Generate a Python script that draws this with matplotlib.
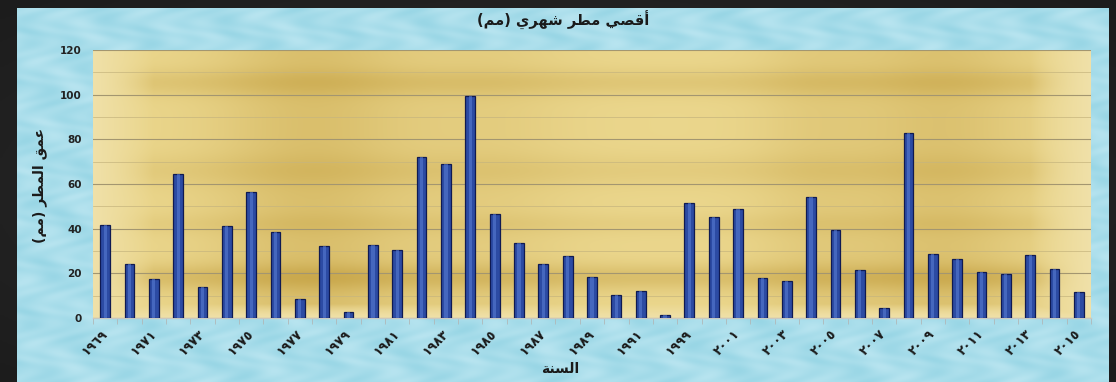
import numpy as np
import matplotlib
matplotlib.use("Agg")
import matplotlib.pyplot as plt

# ---------------- data ----------------
years = list(range(1969, 1992)) + [1992] + list(range(1999, 2016))
values = [41.6, 24.1, 17.3, 64.3, 13.9, 41.4, 56.2, 38.7, 8.5, 32.1, 2.5,
          32.9, 30.3, 72.3, 69.1, 99.3, 46.5, 33.5, 24.4, 27.8, 18.2, 10.3, 12.1,
          1.2,
          51.6, 45.4, 49.0, 17.8, 16.6, 54.1, 39.6, 21.4, 4.5, 82.7, 28.8, 26.5,
          20.6, 19.7, 28.1, 21.8, 11.7]
title_text = "أقصي مطر شهري (مم)"
ylabel_text = "عمق المطر (مم)"
xlabel_text = "السنة"
yticks = [0, 20, 40, 60, 80, 100, 120]

# --------------- arabic shaping (presentation forms, visual order) ---------------
FORMS = {
    '\u0627': ('\uFE8D', '\uFE8E', None, None),
    '\u0623': ('\uFE83', '\uFE84', None, None),
    '\u0642': ('\uFED5', '\uFED6', '\uFED7', '\uFED8'),
    '\u0635': ('\uFEB9', '\uFEBA', '\uFEBB', '\uFEBC'),
    '\u064A': ('\uFEF1', '\uFEF2', '\uFEF3', '\uFEF4'),
    '\u0645': ('\uFEE1', '\uFEE2', '\uFEE3', '\uFEE4'),
    '\u0637': ('\uFEC1', '\uFEC2', '\uFEC3', '\uFEC4'),
    '\u0631': ('\uFEAD', '\uFEAE', None, None),
    '\u0634': ('\uFEB5', '\uFEB6', '\uFEB7', '\uFEB8'),
    '\u0647': ('\uFEE9', '\uFEEA', '\uFEEB', '\uFEEC'),
    '\u0639': ('\uFEC9', '\uFECA', '\uFECB', '\uFECC'),
    '\u0644': ('\uFEDD', '\uFEDE', '\uFEDF', '\uFEE0'),
    '\u0633': ('\uFEB1', '\uFEB2', '\uFEB3', '\uFEB4'),
    '\u0646': ('\uFEE5', '\uFEE6', '\uFEE7', '\uFEE8'),
    '\u0629': ('\uFE93', '\uFE94', None, None),
}


def shape(s):
    ch = list(s)
    out = []
    for i, c in enumerate(ch):
        if c not in FORMS:
            out.append(c)
            continue
        prev = ch[i - 1] if i > 0 else None
        nxt = ch[i + 1] if i + 1 < len(ch) else None
        jp = prev in FORMS and FORMS[prev][2] is not None
        jn = nxt in FORMS and FORMS[c][2] is not None
        f = FORMS[c]
        if jp and jn:
            g = f[3]
        elif jp:
            g = f[1]
        elif jn:
            g = f[2]
        else:
            g = f[0]
        out.append(g)
    vis = ''.join(reversed(out))
    return vis.translate(str.maketrans('()', ')('))


to_ar_digits = str.maketrans('0123456789', '٠١٢٣٤٥٦٧٨٩')
tick_labels = [str(y).translate(to_ar_digits) for y in years]

# ---------------- figure ----------------
W, H = 1116, 382
fig = plt.figure(figsize=(W / 100, H / 100), dpi=100)
fig.patch.set_facecolor('#1d1d1d')

# dark vignette background
bg = fig.add_axes([0, 0, 1, 1], zorder=-10)
bg.set_axis_off()
yy, xx = np.mgrid[0:1:200j, 0:1:400j]
vig = 1 - 0.5 * (((xx - 0.5) / 0.5) ** 2 * 0.5 + ((yy - 0.5) / 0.5) ** 2 * 0.5)
bg.imshow(np.dstack([0.07 + 0.08 * vig] * 3), extent=[0, 1, 0, 1], aspect='auto')
bg.set_xlim(0, 1)
bg.set_ylim(0, 1)

# light blue textured chart area
ca = fig.add_axes([17 / W, 0, (1109 - 17) / W, 1 - 8 / H], zorder=-5)
ca.set_axis_off()
yy, xx = np.mgrid[0:1:300j, 0:1:900j]
tex = (0.5 + 0.3 * np.sin(xx * 140 + np.sin(yy * 50) * 3) * np.sin(yy * 75 + xx * 30)
       + 0.2 * np.sin(xx * 67 - yy * 41))
tex = np.clip(tex, 0, 1)
base = np.array([0.60, 0.84, 0.90])
light = np.array([0.84, 0.95, 0.98])
img = base[None, None, :] * (1 - tex[..., None] * 0.5) + light[None, None, :] * (tex[..., None] * 0.5)
ca.imshow(np.clip(img, 0, 1), extent=[0, 1, 0, 1], aspect='auto', interpolation='bilinear')
ca.set_xlim(0, 1)
ca.set_ylim(0, 1)

# plot axes
ax = fig.add_axes([93 / W, 1 - 318 / H, (1091 - 93) / W, (318 - 50) / H])
yy, xx = np.mgrid[0:1:200j, 0:1:500j]


def bump(t, c, w):
    return np.exp(-((t - c) / w) ** 2)


# darkness field: 0 = light gold, 1 = dark gold
dx = (0.9 * bump(xx, 0.22, 0.10) + 0.35 * bump(xx, 0.40, 0.08)
      + 0.8 * bump(xx, 0.85, 0.09) + 0.4 * bump(xx, 0.72, 0.06))
dy = (0.9 * bump(yy, 0.85, 0.05) + 0.6 * bump(yy, 0.12, 0.05)
      + 0.4 * bump(yy, 0.45, 0.06) + 0.3 * bump(yy, 0.65, 0.04))
dark = np.clip(0.55 * dx + 0.55 * dy, 0, 1)
edge = np.clip(1 - np.minimum.reduce([xx / 0.06, (1 - xx) / 0.06, (1 - yy) / 0.05]), 0, 1)
dark = dark * (1 - edge)
c_light = np.array([0.92, 0.84, 0.55])
c_dark = np.array([0.79, 0.66, 0.30])
gimg = c_light * (1 - dark[..., None]) + c_dark * dark[..., None]
gimg = gimg * (1 - edge[..., None]) + np.array([0.94, 0.88, 0.66]) * edge[..., None]
ax.imshow(np.clip(gimg, 0, 1), extent=[0, 1, 0, 1], transform=ax.transAxes,
          aspect='auto', zorder=0, interpolation='bilinear')

x = np.arange(len(years))
ax.bar(x, values, width=0.4, color='#2c4ba3', edgecolor='#0f1a52', linewidth=0.9, zorder=3)
ax.bar(x, values, width=0.13, color='#5b7fd6', linewidth=0, alpha=0.55, zorder=4)

ax.set_xlim(-0.5, len(years) - 0.5)
ax.set_ylim(0, 120)
ax.set_yticks(yticks)
ax.set_yticks(np.arange(10, 120, 20), minor=True)
ax.grid(axis='y', which='major', color='#a39670', linewidth=0.8, zorder=1)
ax.grid(axis='y', which='minor', color='#c6b57e', linewidth=0.5, zorder=1)
ax.set_axisbelow(True)
ax.tick_params(axis='y', which='both', length=0, pad=8)
for lbl in ax.get_yticklabels():
    lbl.set_fontweight('bold')
    lbl.set_fontsize(7.5)
    lbl.set_color('#222222')

ax.set_xticks(x[::2])
ax.set_xticklabels(tick_labels[::2], rotation=45, ha='right', va='center',
                   rotation_mode='anchor', fontsize=9, fontweight='bold',
                   color='#1a1a1a', family='DejaVu Sans')
ax.set_xticks(np.arange(-0.5, len(years), 1), minor=True)
ax.tick_params(axis='x', which='major', length=0, pad=10)
ax.tick_params(axis='x', which='minor', length=4, color='#b0b8b8')
for s in ['top', 'right', 'left']:
    ax.spines[s].set_visible(False)
ax.spines['bottom'].set_color('#c8c8c0')
ax.spines['bottom'].set_linewidth(1.0)

fig.text(563 / W, 1 - 20 / H, shape(title_text), ha='center', va='center',
         fontsize=10.5, fontweight='bold', color='#1a1a1a', family='DejaVu Sans')
fig.text(560 / W, 1 - 369 / H, shape(xlabel_text), ha='center', va='center',
         fontsize=10, fontweight='bold', color='#1a1a1a', family='DejaVu Sans')
fig.text(40 / W, 1 - 185 / H, shape(ylabel_text), ha='center', va='center',
         rotation=90, fontsize=10, fontweight='bold', color='#1a1a1a', family='DejaVu Sans')

fig.savefig('out.png', dpi=100, facecolor=fig.get_facecolor())
